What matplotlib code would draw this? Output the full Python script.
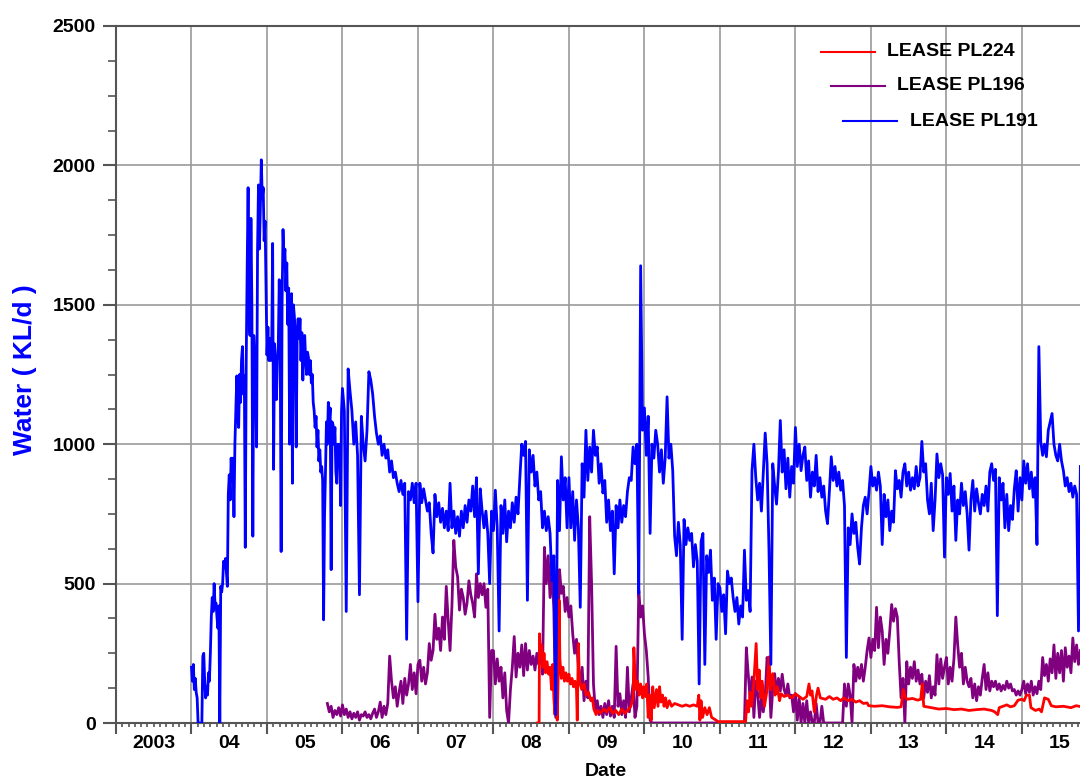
import numpy as np
import matplotlib
matplotlib.use("Agg")
import matplotlib.pyplot as plt
from matplotlib.ticker import MultipleLocator, FixedLocator
from matplotlib.lines import Line2D

plt.rcParams['font.family'] = ['Liberation Sans', 'DejaVu Sans']
plt.rcParams['font.weight'] = 'bold'

# ---------------- data ----------------
# LEASE PL191 (blue), part A: sampled every 0.0125 yr from 2004.0
pl191a_start = 2004.0
pl191a_step = 0.0125
pl191_2004 = [200,150,210,120,160,110,90,0,0,0,
              0,0,240,250,150,90,130,100,180,150,
              250,380,450,400,500,420,430,380,340,420,
              0,490,470,500,580,560,590,540,490,820,
              890,800,950,880,950,740,1000,1120,1245,1100,
              1060,1250,1150,1300,1350,1180,1245,630,1300,1630,
              1920,1450,1390,1810,1500,670,1390,1300,1220,990,
              1700,1930,1700,1850,2020,1880,1920,1730,1800,1560]
pl191_2005 = [1320,1420,1300,1380,1300,1350,1720,910,1360,1250,
              1160,1300,1360,1590,1360,615,1500,1770,1650,1700,
              1550,1650,1430,1560,1000,1460,1540,860,1500,1460,
              1400,990,1390,1450,1380,1450,1300,1400,1230,1350,
              1390,1300,1250,1330,1310,1250,1300,1220,1250,1150,
              1120,1060,1100,990,1050,940,980,900,920,870,
              370,740,900,1080,1000,1150,1080,1130,550,1080,
              1070,1000,1060,900,860,1000,940,1000,780,1120]
# part B: sampled every 0.025 yr from 2006.0
pl191b_start = 2006.0
pl191b_step = 0.025
pl191_2006 = [1200,1120,400,1270,1190,1120,1000,1080,960,460,1100,1000,940,1050,1260,1230,1180,1100,1040,1000,
              1030,960,1000,950,980,900,940,880,900,860,830,870,820,860,300,830,800,860,790,860]
pl191_2007 = [435,860,790,840,800,760,790,680,610,820,740,790,720,770,700,760,690,860,700,760,
              680,740,670,760,700,780,720,800,760,850,740,880,535,840,760,700,760,680,500,760]
pl191_2008 = [690,835,700,330,780,680,800,650,760,700,790,720,810,750,880,1000,960,1010,440,980,
              900,960,850,900,800,830,700,760,690,740,680,510,600,30,870,690,955,800,880,700]
pl191_2009 = [880,700,830,655,800,700,415,930,810,1050,870,990,900,1050,960,990,860,930,825,870,
              720,800,690,760,535,780,700,800,720,780,740,830,880,870,990,930,1000,465,1640,1050]
pl191_2010 = [1130,960,1100,680,1000,950,1050,1000,900,980,860,950,1170,950,1000,905,670,600,720,640,
              300,730,640,700,655,680,560,640,580,140,650,680,210,600,540,620,440,520,300,500]
pl191_2011 = [485,400,460,320,545,500,520,450,400,450,355,420,380,620,440,475,400,905,1000,880,
              800,860,760,900,1040,930,620,210,930,850,785,900,1085,900,980,840,950,810,920,860]
pl191_2012 = [1060,920,1000,905,960,990,870,940,810,900,850,960,830,880,810,850,760,715,830,955,
              870,920,850,900,835,870,780,235,700,640,750,680,720,630,570,700,780,810,750,830]
pl191_2013 = [920,850,880,835,900,850,640,820,740,800,690,760,720,905,840,870,810,900,930,850,
              900,835,880,840,920,850,880,1010,900,930,800,750,860,690,800,965,880,930,890,595]
pl191_2014 = [880,820,895,760,850,655,800,750,860,780,830,750,620,800,870,760,840,790,750,820,
              780,850,760,900,930,870,910,385,880,800,860,700,820,690,780,730,840,905,760,880]
pl191_2015 = [800,940,860,930,840,900,810,880,640,1350,1010,960,1000,955,1050,1080,1110,1000,960,940,
              1000,940,905,850,880,830,860,810,850,820,330,920]

# LEASE PL196 (purple): sampled every 0.025 yr from 2005.8
pl196_start = 2005.8
pl196_step = 0.025
pl196_2005 = [70,40,60,20,45,30,55,25]
pl196_2006 = [65,30,50,20,40,15,35,20,40,10,30,25,40,20,30,15,35,50,20,40,
              75,20,60,30,70,240,150,90,130,60,110,150,70,160,100,140,210,120,180,105]
pl196_2007 = [210,225,150,200,140,180,285,225,260,390,300,340,260,380,300,490,370,260,420,655,
              560,525,405,480,450,390,430,510,460,430,380,535,450,500,460,500,415,480,20,260]
pl196_2008 = [260,140,230,150,200,90,180,45,0,120,200,310,165,250,200,280,170,285,190,260,
              210,240,190,250,210,270,175,630,500,600,450,550,405,20,260,550,465,490,400,450]
pl196_2009 = [380,420,320,250,300,200,140,200,80,150,90,740,500,140,45,80,30,60,20,70,
              30,80,25,60,20,275,60,105,30,80,20,200,40,90,140,20,60,475,380,420]
pl196_2010 = [320,260,165,10,0,0,0,0,0,0,0,0,0,0,0,0,0,0,0,0,
              0,0,0,0,0,0,0,0,0,0,0,0,0,0,0,0,0,0,0,0]
pl196_2011 = [0,0,0,0,0,0,0,0,0,0,0,0,0,0,270,175,90,165,20,150,
              105,20,90,40,100,235,185,20,120,177,105,160,115,175,120,100,140,90,100,40]
pl196_2012 = [105,10,90,0,70,0,80,0,40,0,0,70,0,0,60,0,0,0,0,0,
              0,0,0,0,0,0,140,60,140,100,0,210,150,200,160,210,150,200,260,305]
pl196_2013 = [235,300,260,415,270,380,330,210,300,250,330,425,365,410,380,220,90,160,0,220,
              140,200,160,220,150,190,140,175,90,150,110,170,90,130,100,245,140,230,160,200]
pl196_2014 = [235,140,200,150,230,380,280,200,250,140,200,150,130,160,90,140,80,130,100,160,
              210,120,180,115,150,130,150,120,140,115,135,120,150,125,140,115,120,100,115,100]
pl196_2015 = [120,150,105,140,110,150,100,130,105,150,120,235,170,210,150,230,180,280,160,250,
              180,260,150,270,200,240,180,305,220,280,210,260]

# LEASE PL224 (red): (date, value) readings
pl224_t = [2008.580,2008.605,2008.610,2008.625,2008.640,2008.655,2008.670,2008.690,2008.710,2008.730,
           2008.750,2008.770,2008.785,2008.800,2008.815,2008.830,2008.845,2008.860,2008.870,2008.880,
           2008.900,2008.920,2008.940,2008.960,2008.980,2009.000,2009.020,2009.040,2009.060,2009.080,
           2009.100,2009.110,2009.125,2009.140,2009.170,2009.200,2009.230,2009.260,2009.290,2009.310,
           2009.330,2009.360,2009.380,2009.420,2009.460,2009.500,2009.540,2009.580,2009.620,2009.660,
           2009.700,2009.740,2009.780,2009.820,2009.850,2009.860,2009.875,2009.890,2009.910,2009.930,
           2009.950,2009.975,2009.990,2010.010,2010.030,2010.050,2010.070,2010.090,2010.110,2010.130,
           2010.160,2010.180,2010.200,2010.220,2010.240,2010.260,2010.280,2010.300,2010.330,2010.360,
           2010.400,2010.450,2010.500,2010.550,2010.600,2010.650,2010.700,2010.720,2010.735,2010.750,
           2010.770,2010.800,2010.830,2010.860,2010.890,2010.920,2010.950,2010.970,2011.340,2011.360,
           2011.380,2011.400,2011.420,2011.450,2011.480,2011.500,2011.520,2011.540,2011.560,2011.590,
           2011.620,2011.650,2011.670,2011.700,2011.730,2011.760,2011.790,2011.810,2011.850,2011.900,
           2011.950,2012.000,2012.050,2012.100,2012.150,2012.180,2012.200,2012.220,2012.250,2012.280,
           2012.300,2012.330,2012.400,2012.450,2012.500,2012.550,2012.600,2012.640,2012.700,2012.750,
           2012.800,2012.850,2012.900,2012.950,2012.970,2013.050,2013.150,2013.250,2013.350,2013.400,
           2013.430,2013.450,2013.480,2013.550,2013.620,2013.660,2013.680,2013.700,2013.800,2013.900,
           2014.000,2014.100,2014.200,2014.300,2014.400,2014.500,2014.600,2014.640,2014.680,2014.700,
           2014.750,2014.800,2014.850,2014.900,2014.950,2015.000,2015.030,2015.060,2015.100,2015.120,
           2015.180,2015.230,2015.260,2015.300,2015.350,2015.390,2015.450,2015.550,2015.650,2015.720,
           2015.790]
pl224_v = [0,0,320,240,280,200,250,180,220,175,
           200,120,210,90,30,150,10,200,440,230,
           160,200,150,180,150,175,140,160,130,150,
           120,10,285,150,120,140,100,110,80,90,
           50,30,45,35,50,40,55,35,45,30,
           50,35,45,60,90,270,175,120,150,100,
           140,90,130,95,140,20,100,10,130,55,
           120,60,130,75,100,60,90,55,80,60,
           70,65,60,65,60,65,60,100,10,80,
           20,55,30,55,20,15,10,5,5,80,
           40,110,60,150,285,120,190,90,150,60,
           110,237,120,177,100,130,80,105,95,100,
           90,105,95,85,95,140,100,115,40,100,
           125,90,85,95,85,90,80,90,80,85,
           75,80,70,72,62,60,62,58,56,58,
           120,95,85,88,82,85,140,60,55,50,
           52,48,50,45,48,50,45,40,30,55,
           60,65,58,62,82,85,80,100,100,55,
           45,50,40,90,85,62,58,60,55,62,
           58]

year_ticks = list(range(2003, 2016))
year_labels = ['2003', '04', '05', '06', '07', '08', '09', '10', '11', '12', '13', '14', '15']
series_names = ['LEASE PL224', 'LEASE PL196', 'LEASE PL191']
series_colors = ['#ff0000', '#800080', '#0000ff']

# ---------------- build series ----------------
pl191a_v = pl191_2004 + pl191_2005
pl191b_v = (pl191_2006 + pl191_2007 + pl191_2008 + pl191_2009 + pl191_2010 +
            pl191_2011 + pl191_2012 + pl191_2013 + pl191_2014 + pl191_2015)
pl191_t = np.concatenate([pl191a_start + pl191a_step * np.arange(len(pl191a_v)),
                          pl191b_start + pl191b_step * np.arange(len(pl191b_v))])
pl191_v = pl191a_v + pl191b_v
pl196_v = (pl196_2005 + pl196_2006 + pl196_2007 + pl196_2008 + pl196_2009 + pl196_2010 +
           pl196_2011 + pl196_2012 + pl196_2013 + pl196_2014 + pl196_2015)
pl196_t = pl196_start + pl196_step * np.arange(len(pl196_v))

# ---------------- figure ----------------
W, H = 1080, 780
fig = plt.figure(figsize=(W / 100, H / 100), dpi=100)
ax = fig.add_axes([116 / W, (H - 723) / H, (W - 116) / W, (723 - 26) / H])

lw = 2.0
ax.plot(pl196_t, pl196_v, color=series_colors[1], lw=lw, zorder=3)
ax.plot(pl224_t, pl224_v, color=series_colors[0], lw=lw, zorder=4)
ax.plot(pl191_t, pl191_v, color=series_colors[2], lw=lw, zorder=5)

ax.set_xlim(2003.0, 2015.77)
ax.set_ylim(0, 2500)

spine_col = '#555555'
grid_col = '#9a9a9a'
for s in ['left', 'bottom', 'top']:
    ax.spines[s].set_color(spine_col)
    ax.spines[s].set_linewidth(1.5)
ax.spines['right'].set_visible(False)

ax.xaxis.set_major_locator(FixedLocator(year_ticks))
ax.xaxis.set_minor_locator(MultipleLocator(1 / 12))
ax.set_xticklabels([''] * len(year_ticks))
ax.yaxis.set_major_locator(MultipleLocator(500))
ax.yaxis.set_minor_locator(MultipleLocator(125))

ax.tick_params(axis='x', which='major', direction='out', length=8, width=1.5, color=spine_col)
ax.tick_params(axis='x', which='minor', direction='out', length=3, width=1.2, color=spine_col)
ax.tick_params(axis='y', which='major', direction='out', length=9.5, width=1.5, color=spine_col,
               pad=5, labelsize=14)
ax.tick_params(axis='y', which='minor', direction='out', length=5.5, width=1.2, color=spine_col)
for lab in ax.get_yticklabels():
    lab.set_fontweight('bold')

ax.grid(True, which='major', color=grid_col, lw=1.2)
ax.set_axisbelow(True)

# year labels centred in each year
sec = ax.secondary_xaxis('bottom')
sec.set_xticks([y + 0.5 for y in year_ticks], labels=year_labels)
sec.tick_params(length=0, pad=9, labelsize=14)
sec.spines['bottom'].set_visible(False)
for lab in sec.get_xticklabels():
    lab.set_fontweight('bold')

fig.text(606 / W, 1 - 772 / H, 'Date', ha='center', va='center', fontsize=14, fontweight='bold')
fig.text(25 / W, 1 - 370 / H, 'Water ( KL/d )', ha='center', va='center', rotation=90,
         fontsize=19, fontweight='bold', color='#0000ff')

# staggered legend
leg_rows = [(821, 875, 52, 887), (831, 885, 86, 897), (843, 897, 121, 910)]
for (x0, x1, yy, xt), name, col in zip(leg_rows, series_names, series_colors):
    fig.add_artist(Line2D([x0 / W, x1 / W], [1 - yy / H, 1 - yy / H], color=col, lw=1.5,
                          transform=fig.transFigure))
    fig.text(xt / W, 1 - yy / H, name, ha='left', va='center', fontsize=14, fontweight='bold')

fig.savefig('out.png', dpi=100)
